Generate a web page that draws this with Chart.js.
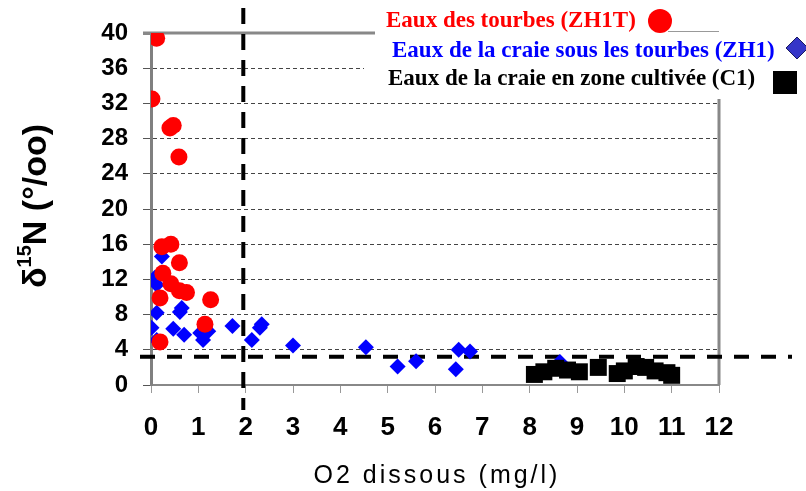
<!DOCTYPE html>
<html>
<head>
    <title>delta 15N / O2 dissous</title>
    <meta charset="utf-8" />
    <script src="https://cdn.jsdelivr.net/npm/chart.js"></script>
    <style>
        html, body { margin: 0; padding: 0; background: #fff; }
        #chart { display: block; }
    </style>
</head>
<body>
    <canvas id="chart" width="806" height="491"></canvas>
    <script>
        // Eaux des tourbes (ZH1T)
        var tourbesO2  = [0.12, 0.02, 0.4, 0.47, 0.59, 0.23, 0.42, 0.6, 0.25, 0.42, 0.6, 0.75, 0.19, 1.26, 1.14, 0.19];
        var tourbesN15 = [39.4, 32.5, 29.2, 29.5, 25.9, 15.7, 16.0, 13.9, 12.7, 11.5, 10.7, 10.5, 9.9, 9.7, 6.9, 4.9];

        // Eaux de la craie sous les tourbes (ZH1)
        var craieO2  = [0.23, 0.08, 0.12, 0.12, 0.65, 0.61, 0.01, 0.47, 0.7, 1.04, 1.1, 0.12, 1.21, 1.72, 2.13, 2.34, 2.3, 3.0, 4.54, 5.21, 5.6, 6.44, 6.5, 6.74, 8.64];
        var craieN15 = [14.6, 12.2, 11.4, 8.2, 8.75, 8.3, 6.5, 6.4, 5.7, 5.9, 5.1, 5.1, 6.1, 6.7, 5.1, 6.9, 6.5, 4.5, 4.3, 2.1, 2.7, 1.8, 4.0, 3.8, 2.6];

        // Eaux de la craie en zone cultivée (C1)
        var cultiveO2  = [8.1, 8.3, 8.55, 8.8, 9.05, 9.45, 9.85, 10.0, 10.25, 10.45, 10.65, 10.9, 11.0];
        var cultiveN15 = [1.2, 1.5, 1.9, 1.7, 1.5, 2.0, 1.3, 1.6, 2.1, 2.0, 1.6, 1.4, 1.1];

        var xTicks = [0, 1, 2, 3, 4, 5, 6, 7, 8, 9, 10, 11, 12];
        var yTicks = [0, 4, 8, 12, 16, 20, 24, 28, 32, 36, 40];

        // seuils (lignes pointillées)
        var seuilO2 = 1.95;
        var seuilN15 = 3.2;

        var legendLabels = ['Eaux des tourbes (ZH1T)', 'Eaux de la craie sous les tourbes (ZH1)', 'Eaux de la craie en zone cultivée (C1)'];

        function toPoints(xs, ys) {
            return xs.map(function (x, i) { return { x: x, y: ys[i] }; });
        }

        // cadre, seuils et légende, dessinés avant les points
        var decor = {
            id: 'decor',
            beforeDatasetsDraw: function (chart) {
                var ctx = chart.ctx, a = chart.chartArea;
                var xs = chart.scales.x, ys = chart.scales.y;
                ctx.save();

                // fond blanc de la légende
                ctx.fillStyle = '#fff';
                ctx.fillRect(364, 0, 806 - 364, 98);

                // bord haut et bord droit
                ctx.strokeStyle = '#888';
                ctx.lineWidth = 3;
                ctx.beginPath();
                ctx.moveTo(a.left - 8, a.top);
                ctx.lineTo(375, a.top);
                ctx.stroke();
                ctx.beginPath();
                ctx.moveTo(a.right, 99);
                ctx.lineTo(a.right, a.bottom);
                ctx.stroke();
                ctx.lineWidth = 1;
                ctx.strokeStyle = '#999';
                ctx.beginPath();
                ctx.moveTo(668, 31.5);
                ctx.lineTo(a.right, 31.5);
                ctx.stroke();

                // seuils
                ctx.strokeStyle = '#000';
                ctx.lineWidth = 4;
                ctx.setLineDash([16, 10]);
                var px = xs.getPixelForValue(seuilO2);
                ctx.beginPath();
                ctx.moveTo(px, 8);
                ctx.lineTo(px, a.bottom + 25);
                ctx.stroke();
                ctx.setLineDash([15, 12]);
                var py = ys.getPixelForValue(seuilN15);
                ctx.beginPath();
                ctx.moveTo(a.left - 11, py);
                ctx.lineTo(792, py);
                ctx.stroke();
                ctx.setLineDash([]);

                // légende
                ctx.font = 'bold 23px "Liberation Serif", "Times New Roman", serif';
                ctx.textBaseline = 'alphabetic';
                ctx.textAlign = 'left';
                ctx.fillStyle = '#ff0000';
                ctx.fillText(legendLabels[0], 386, 27);
                ctx.fillStyle = '#0000ff';
                ctx.fillText(legendLabels[1], 392, 57);
                ctx.fillStyle = '#000';
                ctx.fillText(legendLabels[2], 388, 85);

                ctx.fillStyle = '#ff0000';
                ctx.beginPath();
                ctx.arc(660, 21, 12, 0, Math.PI * 2);
                ctx.fill();

                ctx.fillStyle = '#3636c8';
                ctx.strokeStyle = '#1a1a60';
                ctx.lineWidth = 1;
                ctx.beginPath();
                ctx.moveTo(797, 37);
                ctx.lineTo(808, 48);
                ctx.lineTo(797, 59);
                ctx.lineTo(786, 48);
                ctx.closePath();
                ctx.fill();
                ctx.stroke();

                ctx.fillStyle = '#000';
                ctx.fillRect(773, 71, 24, 23);

                // titre axe Y
                ctx.save();
                ctx.translate(46, 206);
                ctx.rotate(-Math.PI / 2);
                var big = 'bold 34px "Liberation Sans", Arial, sans-serif';
                var small = 'bold 20px "Liberation Sans", Arial, sans-serif';
                ctx.font = big;
                var w1 = ctx.measureText('\u03b4').width;
                var w3 = ctx.measureText('N (\u00b0/oo)').width;
                ctx.font = small;
                var w2 = ctx.measureText('15').width;
                var x0 = -(w1 + w2 + w3) / 2;
                ctx.fillStyle = '#000';
                ctx.font = big;
                ctx.fillText('\u03b4', x0, 0);
                ctx.font = small;
                ctx.fillText('15', x0 + w1, -15);
                ctx.font = big;
                ctx.fillText('N (\u00b0/oo)', x0 + w1 + w2, 0);
                ctx.restore();

                // titre axe X
                ctx.font = '25px "Liberation Sans", Arial, sans-serif';
                ctx.letterSpacing = '3px';
                ctx.textAlign = 'center';
                ctx.fillStyle = '#000';
                ctx.fillText('O2 dissous (mg/l)', 437, 483);

                ctx.restore();
            }
        };

        new Chart(document.getElementById('chart'), {
            type: 'scatter',
            data: {
                datasets: [{
                    label: legendLabels[0],
                    data: toPoints(tourbesO2, tourbesN15),
                    pointStyle: 'circle',
                    radius: 8.5,
                    backgroundColor: '#ff0000',
                    borderWidth: 0
                }, {
                    label: legendLabels[2],
                    data: toPoints(cultiveO2, cultiveN15),
                    pointStyle: 'rect',
                    radius: 12,
                    backgroundColor: '#000',
                    borderWidth: 0
                }, {
                    label: legendLabels[1],
                    data: toPoints(craieO2, craieN15),
                    pointStyle: 'rectRot',
                    radius: 8,
                    backgroundColor: '#0000ff',
                    borderWidth: 0
                }]
            },
            options: {
                responsive: false,
                devicePixelRatio: 1,
                animation: false,
                layout: { padding: { left: 0, right: 87, top: 33, bottom: 0 } },
                plugins: {
                    legend: { display: false },
                    tooltip: { enabled: false }
                },
                scales: {
                    x: {
                        type: 'linear',
                        min: xTicks[0],
                        max: xTicks[xTicks.length - 1],
                        afterBuildTicks: function (s) { s.ticks = xTicks.map(function (v) { return { value: v }; }); },
                        afterFit: function (s) { s.height = 106; },
                        ticks: {
                            color: '#000',
                            padding: 19,
                            font: { family: '"Liberation Sans", Arial, sans-serif', size: 26, weight: 'bold' }
                        },
                        grid: { drawOnChartArea: false, drawTicks: true, tickLength: 8, tickColor: '#999', tickWidth: 1 },
                        border: { display: true, color: '#888', width: 2 }
                    },
                    y: {
                        type: 'linear',
                        min: yTicks[0],
                        max: yTicks[yTicks.length - 1],
                        afterBuildTicks: function (s) { s.ticks = yTicks.map(function (v) { return { value: v }; }); },
                        afterFit: function (s) { s.width = 151; },
                        ticks: {
                            color: '#000',
                            padding: 15,
                            font: { family: '"Liberation Sans", Arial, sans-serif', size: 24, weight: 'bold' }
                        },
                        grid: {
                            color: function (c) { return (c.tick && (c.tick.value === 0 || c.tick.value === 40)) ? 'rgba(0,0,0,0)' : '#444'; },
                            lineWidth: 1,
                            drawTicks: true,
                            tickLength: 8,
                            tickColor: function (c) { return (c.tick && c.tick.value === 40) ? '#888' : '#555'; },
                            tickWidth: function (c) { return (c.tick && c.tick.value === 40) ? 3 : 1; }
                        },
                        border: { display: true, color: '#808080', width: 3, dash: [4, 3] }
                    }
                }
            },
            plugins: [decor]
        });
    </script>
</body>
</html>
